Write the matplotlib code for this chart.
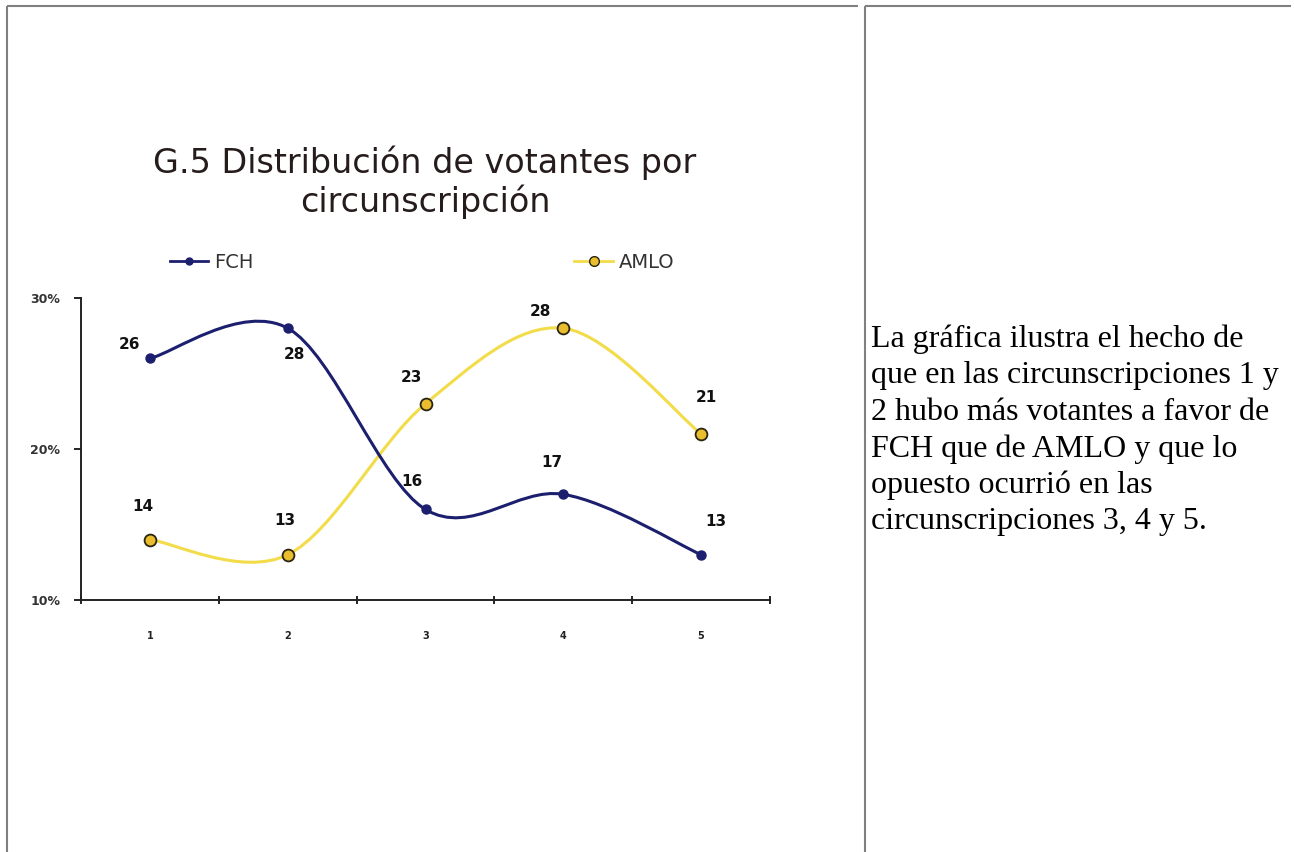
import matplotlib.pyplot as plt
from matplotlib.path import Path
from matplotlib.patches import PathPatch
from matplotlib.lines import Line2D

# data
CIRCUNSCRIPCIONES = [1, 2, 3, 4, 5]
FCH = [26, 28, 16, 17, 13]
AMLO = [14, 13, 23, 28, 21]
Y_TICKS = [10, 20, 30]
TITLE = 'G.5 Distribución de votantes por\ncircunscripción'
TEXTO = ['La gráfica ilustra el hecho de',
         'que en las circunscripciones 1 y',
         '2 hubo más votantes a favor de',
         'FCH que de AMLO y que lo',
         'opuesto ocurrió en las',
         'circunscripciones 3, 4 y 5.']

# label offsets in pixels (dx, dy up)
FCH_OFF = [(-20, 14), (7, -26), (-14, 28), (-11, 32), (15, 33)]
AMLO_OFF = [(-7, 33), (-3, 34), (-14, 26), (-23, 17), (5, 36)]

NAVY = '#1c1f6e'
YELLOW = '#f2dc4a'
GOLD = '#e9bd2e'
W, H = 1294, 852


def smooth_path(xs, ys):
    # excel-like smoothed line (catmull-rom as cubic bezier)
    pts = list(zip(xs, ys))
    n = len(pts)
    verts = [pts[0]]
    codes = [Path.MOVETO]
    for i in range(n - 1):
        p0 = pts[max(i - 1, 0)]
        p1 = pts[i]
        p2 = pts[i + 1]
        p3 = pts[min(i + 2, n - 1)]
        c1 = (p1[0] + (p2[0] - p0[0]) / 6, p1[1] + (p2[1] - p0[1]) / 6)
        c2 = (p2[0] - (p3[0] - p1[0]) / 6, p2[1] - (p3[1] - p1[1]) / 6)
        verts += [c1, c2, p2]
        codes += [Path.CURVE4] * 3
    return Path(verts, codes)


def fx(px):
    return px / W


def fy(py):
    return 1 - py / H


def main():
    fig = plt.figure(figsize=(W / 100, H / 100), dpi=100)

    # table cell borders
    grey = '#808080'
    for xs, ys in [((7, 858), (6, 6)), ((7, 7), (6, 852)),
                   ((865, 1291), (6, 6)), ((865, 865), (6, 852))]:
        fig.add_artist(Line2D([fx(x) for x in xs], [fy(y) for y in ys],
                              color=grey, lw=1.5, solid_capstyle='butt'))

    ax = fig.add_axes([fx(81), fy(600), fx(770) - fx(81), (600 - 298) / H])
    ax.set_xlim(0.5, 5.5)
    ax.set_ylim(10, 30)

    ax.add_patch(PathPatch(smooth_path(CIRCUNSCRIPCIONES, AMLO), fill=False,
                           edgecolor=YELLOW, lw=2.2, zorder=2))
    ax.add_patch(PathPatch(smooth_path(CIRCUNSCRIPCIONES, FCH), fill=False,
                           edgecolor=NAVY, lw=2.2, zorder=3))
    ax.plot(CIRCUNSCRIPCIONES, AMLO, ls='none', marker='o', ms=8.5,
            mfc=GOLD, mec='#2a2410', mew=1.3, zorder=4)
    ax.plot(CIRCUNSCRIPCIONES, FCH, ls='none', marker='o', ms=6.5,
            mfc=NAVY, mec=NAVY, zorder=5)

    for x, y, off in zip(CIRCUNSCRIPCIONES, FCH, FCH_OFF):
        ax.annotate(str(y), (x, y), xytext=off, textcoords='offset pixels',
                    ha='center', va='center', fontsize=11, fontweight='bold',
                    color='#111111')
    for x, y, off in zip(CIRCUNSCRIPCIONES, AMLO, AMLO_OFF):
        ax.annotate(str(y), (x, y), xytext=off, textcoords='offset pixels',
                    ha='center', va='center', fontsize=11, fontweight='bold',
                    color='#111111')

    for s in ['top', 'right']:
        ax.spines[s].set_visible(False)
    for s in ['left', 'bottom']:
        ax.spines[s].set_linewidth(1.4)
        ax.spines[s].set_color('#222222')

    ax.set_yticks(Y_TICKS)
    ax.set_yticklabels([f'{v}%' for v in Y_TICKS], fontsize=9,
                       fontweight='bold', color='#333333')
    ax.tick_params(axis='y', direction='out', length=5, width=1.2, pad=10)

    ax.set_xticks([i + 0.5 for i in range(0, 6)])
    ax.set_xticklabels([])
    ax.set_xticks(CIRCUNSCRIPCIONES, minor=True)
    ax.set_xticklabels([str(c) for c in CIRCUNSCRIPCIONES], minor=True,
                       fontsize=7, fontweight='bold', color='#222222')
    ax.tick_params(axis='x', which='major', direction='inout', length=6, width=1.2)
    ax.tick_params(axis='x', which='minor', length=0, pad=22)

    fig.text(fx(425), fy(182), TITLE, ha='center', va='center', fontsize=24,
             color='#261c1c', linespacing=1.15)

    handles = [Line2D([], [], color=NAVY, lw=2, marker='o', ms=5, mfc=NAVY, mec=NAVY),
               Line2D([], [], color=YELLOW, lw=2, marker='o', ms=7, mfc=GOLD, mec='#2a2410')]
    fig.legend(handles, ['FCH', 'AMLO'], ncol=2, frameon=False, fontsize=14,
               loc='center left', bbox_to_anchor=(fx(152), fy(262)),
               handlelength=2.0, handletextpad=0.3, columnspacing=16.5,
               labelcolor='#333333')

    for i, line in enumerate(TEXTO):
        fig.text(fx(871), fy(347 + 36.5 * i), line, ha='left', va='baseline',
                 fontsize=23, family='Liberation Serif', color='black')

    fig.savefig('out.png', dpi=100)


if __name__ == '__main__':
    main()
